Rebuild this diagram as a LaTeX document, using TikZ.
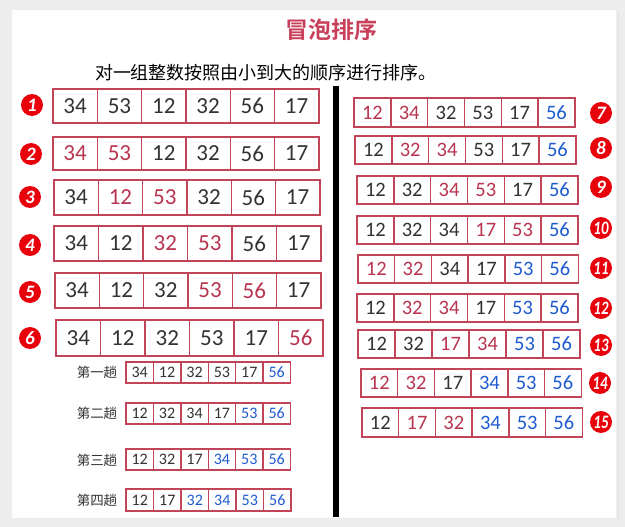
\documentclass[tikz,border=0pt]{standalone}
\usepackage{fontspec}
\setmainfont{Carlito}
\newfontfamily\cjk{Noto Sans CJK SC}
\newfontfamily\cjkb{Noto Sans CJK SC}[BoldFont={* Bold}]
\usetikzlibrary{calc}
\definecolor{dk}{HTML}{333333}
\definecolor{rd}{HTML}{B8344F}
\definecolor{bl}{HTML}{1F5BD0}
\definecolor{bd}{HTML}{C24458}
\definecolor{bg}{HTML}{EDEDED}
\definecolor{badgered}{HTML}{E8000B}
\definecolor{titlered}{HTML}{C8405A}
\tikzset{
  cell/.style={draw=bd, line width=1.4pt, fill=white, inner sep=0pt, outer sep=0pt},
  bigtxt/.style={font=\fontsize{23}{23}\selectfont},
  midtxt/.style={font=\fontsize{20.5}{20.5}\selectfont},
  smalltxt/.style={font=\fontsize{16}{16}\selectfont},
  badge/.style={circle, fill=badgered, text=white, inner sep=0pt, minimum size=22pt,
    font=\fontsize{19}{19}\selectfont\bfseries\itshape},
  passlabel/.style={text=dk, font=\cjk\fontsize{13.5}{13.5}\selectfont},
}
\newcommand\cellrow[7]{%
  \foreach \c/\v [count=\i] in {#7} {
    \node[cell, #6, minimum width=#4pt, minimum height=#5pt, text=\c]
      (#1-\i) at ({#2+(\i-0.5)*#4}, {-#3-#5/2}) {\v};
  }}
\begin{document}
\begin{tikzpicture}[x=1pt, y=1pt]
\useasboundingbox (0,0) rectangle (625,-527);
\fill[bg] (0,0) rectangle (625,-527);
% shadow
\fill[black!12] (14,-12) rectangle (619,-520);
\fill[black!7] (13,-11) rectangle (618,-519.5);
\fill[white] (12,-10) rectangle (616,-518);
% title
\node[text=titlered, font=\cjkb\bfseries\fontsize{23}{23}\selectfont] (title) at (331,-30) {冒泡排序};
\node[text=black, font=\cjk\fontsize{18}{18}\selectfont] (subtitle) at (266,-73) {对一组整数按照由小到大的顺序进行排序。};
% divider
\fill[black] (333,-86) rectangle (339,-517);
\coordinate (divtop) at (336,-86);
% left rows
\cellrow{r1}{53}{89}{44.3}{34}{bigtxt}{dk/34,dk/53,dk/12,dk/32,dk/56,dk/17}
\cellrow{r2}{53}{137}{44.3}{33}{bigtxt}{rd/34,rd/53,dk/12,dk/32,dk/56,dk/17}
\cellrow{r3}{54}{180}{44.3}{35}{bigtxt}{dk/34,rd/12,rd/53,dk/32,dk/56,dk/17}
\cellrow{r4}{54}{226}{44.5}{35}{bigtxt}{dk/34,dk/12,rd/32,rd/53,dk/56,dk/17}
\cellrow{r5}{55}{273}{44.3}{35}{bigtxt}{dk/34,dk/12,dk/32,rd/53,rd/56,dk/17}
\cellrow{r6}{56}{320}{44.5}{36}{bigtxt}{dk/34,dk/12,dk/32,dk/53,dk/17,rd/56}
% right rows
\cellrow{r7}{354}{98}{36.8}{29}{midtxt}{rd/12,rd/34,dk/32,dk/53,dk/17,bl/56}
\cellrow{r8}{355}{136}{36.8}{28}{midtxt}{dk/12,rd/32,rd/34,dk/53,dk/17,bl/56}
\cellrow{r9}{357}{176}{36.8}{28}{midtxt}{dk/12,dk/32,rd/34,rd/53,dk/17,bl/56}
\cellrow{r10}{357}{216}{36.8}{28}{midtxt}{dk/12,dk/32,dk/34,rd/17,rd/53,bl/56}
\cellrow{r11}{358}{255}{36.7}{28}{midtxt}{rd/12,rd/32,dk/34,dk/17,bl/53,bl/56}
\cellrow{r12}{357}{294}{36.8}{28}{midtxt}{dk/12,rd/32,rd/34,dk/17,bl/53,bl/56}
\cellrow{r13}{358}{330}{37}{28}{midtxt}{dk/12,dk/32,rd/17,rd/34,bl/53,bl/56}
\cellrow{r14}{361}{369}{36.7}{28}{midtxt}{rd/12,rd/32,dk/17,bl/34,bl/53,bl/56}
\cellrow{r15}{362}{408}{36.7}{29}{midtxt}{dk/12,rd/17,rd/32,bl/34,bl/53,bl/56}
% bottom passes
\cellrow{p1}{126}{362}{27.4}{21}{smalltxt}{dk/34,dk/12,dk/32,dk/53,dk/17,bl/56}
\cellrow{p2}{126}{403}{27.4}{21}{smalltxt}{dk/12,dk/32,dk/34,dk/17,bl/53,bl/56}
\cellrow{p3}{126}{449}{27.4}{21}{smalltxt}{dk/12,dk/32,dk/17,bl/34,bl/53,bl/56}
\cellrow{p4}{126}{489}{27.5}{22}{smalltxt}{dk/12,dk/17,bl/32,bl/34,bl/53,bl/56}
\node[passlabel] (l1) at (97,-372) {第一趟};
\node[passlabel] (l2) at (97,-413) {第二趟};
\node[passlabel] (l3) at (97,-460) {第三趟};
\node[passlabel] (l4) at (97,-500) {第四趟};
% badges left
\node[badge] (b1) at (32,-105) {1};
\node[badge] (b2) at (31,-154) {2};
\node[badge] (b3) at (30,-197) {3};
\node[badge] (b4) at (30,-245) {4};
\node[badge] (b5) at (30,-292) {5};
\node[badge] (b6) at (30,-338) {6};
% badges right
\node[badge] (b7) at (601,-113) {7};
\node[badge] (b8) at (601,-148) {8};
\node[badge] (b9) at (601,-187) {9};
\node[badge] (b10) at (601,-228) {\scalebox{0.78}[1]{10}};
\node[badge] (b11) at (601,-268) {\scalebox{0.78}[1]{11}};
\node[badge] (b12) at (601,-308) {\scalebox{0.78}[1]{12}};
\node[badge] (b13) at (601,-345) {\scalebox{0.78}[1]{13}};
\node[badge] (b14) at (600,-383) {\scalebox{0.78}[1]{14}};
\node[badge] (b15) at (601,-422) {\scalebox{0.78}[1]{15}};
\end{tikzpicture}
\end{document}
